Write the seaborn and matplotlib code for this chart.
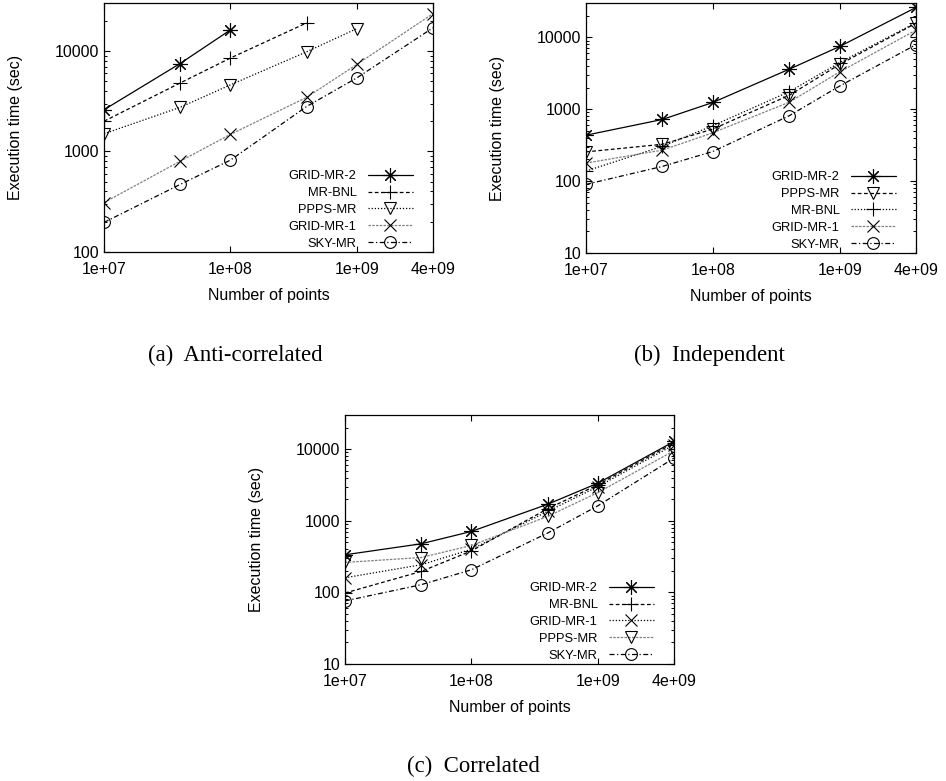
import numpy as np
import pandas as pd
import matplotlib
matplotlib.use("Agg")
import matplotlib.pyplot as plt
import matplotlib.ticker as mticker
import seaborn as sns

# Dataset sizes (number of points)
n_points = [1e7, 4e7, 1e8, 4e8, 1e9, 4e9]
x_tick_values = [1e7, 1e8, 1e9, 4e9]
x_tick_labels = ["1e+07", "1e+08", "1e+09", "4e+09"]

# Execution times (sec), anti-correlated data
anti_grid_mr2 = [2600, 7500, 16200]
anti_mr_bnl = [2000, 4800, 8500, 19000]
anti_ppps_mr = [1500, 2750, 4600, 9800, 16700]
anti_grid_mr1 = [310, 800, 1480, 3450, 7350, 23500]
anti_sky_mr = [197, 470, 820, 2800, 5400, 17000]

# Execution times (sec), independent data
ind_grid_mr2 = [435, 720, 1240, 3600, 7450, 26000]
ind_ppps_mr = [255, 325, 530, 1560, 4200, 15700]
ind_mr_bnl = [138, 305, 590, 1750, 4450, 16000]
ind_grid_mr1 = [178, 270, 470, 1250, 3300, 12600]
ind_sky_mr = [90, 160, 258, 810, 2100, 7900]

# Execution times (sec), correlated data
cor_grid_mr2 = [335, 477, 710, 1700, 3350, 12800]
cor_mr_bnl = [98, 196, 380, 1470, 3180, 12200]
cor_grid_mr1 = [160, 243, 400, 1350, 3000, 11500]
cor_ppps_mr = [262, 307, 452, 1150, 2480, 9500]
cor_sky_mr = [76, 128, 207, 673, 1620, 7500]

sns.set_style("ticks")
plt.rcParams.update({
    "font.family": ["Liberation Sans", "DejaVu Sans"],
    "xtick.direction": "in",
    "ytick.direction": "in",
    "xtick.top": True,
    "ytick.right": True,
    "axes.edgecolor": "black",
    "axes.linewidth": 0.9,
    "xtick.color": "black",
    "ytick.color": "black",
    "text.color": "black",
    "axes.labelcolor": "black",
})

# Marker per algorithm
markers = {
    "GRID-MR-2": dict(marker=(8, 2, 0), markersize=10.5),
    "MR-BNL": dict(marker="+", markersize=10),
    "PPPS-MR": dict(marker="v", markersize=8.5),
    "GRID-MR-1": dict(marker="x", markersize=8),
    "SKY-MR": dict(marker="o", markersize=8.5),
}

# Line style per legend position (solid, dashed, dotted, grey fine, dash-dot)
line_styles = [
    dict(linestyle="-", color="black"),
    dict(linestyle=(0, (3, 2)), color="black"),
    dict(linestyle=(0, (1, 1.5)), color="black"),
    dict(linestyle=(0, (2, 1)), color="0.5"),
    dict(linestyle=(0, (4, 2, 1, 2)), color="black"),
]

panels = [
    dict(rect=[104 / 946, 1 - 252 / 781, 329 / 946, 249 / 781], ylim=(100, 30000),
         caption="(a)  Anti-correlated", cap_xy=(235 / 946, 1 - 361 / 781),
         series=[("GRID-MR-2", anti_grid_mr2), ("MR-BNL", anti_mr_bnl),
                 ("PPPS-MR", anti_ppps_mr), ("GRID-MR-1", anti_grid_mr1),
                 ("SKY-MR", anti_sky_mr)]),
    dict(rect=[586 / 946, 1 - 253 / 781, 330 / 946, 250 / 781], ylim=(10, 30000),
         caption="(b)  Independent", cap_xy=(709 / 946, 1 - 361 / 781),
         series=[("GRID-MR-2", ind_grid_mr2), ("PPPS-MR", ind_ppps_mr),
                 ("MR-BNL", ind_mr_bnl), ("GRID-MR-1", ind_grid_mr1),
                 ("SKY-MR", ind_sky_mr)]),
    dict(rect=[345 / 946, 1 - 664 / 781, 329 / 946, 249 / 781], ylim=(10, 30000),
         caption="(c)  Correlated", cap_xy=(473 / 946, 1 - 772 / 781),
         series=[("GRID-MR-2", cor_grid_mr2), ("MR-BNL", cor_mr_bnl),
                 ("GRID-MR-1", cor_grid_mr1), ("PPPS-MR", cor_ppps_mr),
                 ("SKY-MR", cor_sky_mr)]),
]

fig = plt.figure(figsize=(9.46, 7.81), dpi=100)

for panel in panels:
    ax = fig.add_axes(panel["rect"])
    for pos, (name, values) in enumerate(panel["series"]):
        df = pd.DataFrame({"points": n_points[:len(values)], "time": values})
        style = line_styles[pos]
        mk = markers[name]
        sns.lineplot(data=df, x="points", y="time", ax=ax, errorbar=None,
                     color=style["color"], linestyle=style["linestyle"],
                     linewidth=0.9, marker=mk["marker"], markersize=mk["markersize"],
                     markerfacecolor="none", markeredgecolor="black",
                     markeredgewidth=0.8, label=name)
    ax.set_xscale("log")
    ax.set_yscale("log")
    ax.set_xlim(1e7, 4e9)
    ax.set_ylim(*panel["ylim"])
    ax.xaxis.set_major_locator(mticker.FixedLocator(x_tick_values))
    ax.xaxis.set_major_formatter(mticker.FixedFormatter(x_tick_labels))
    ax.xaxis.set_minor_locator(mticker.NullLocator())
    ax.yaxis.set_major_locator(mticker.LogLocator(base=10))
    ax.yaxis.set_major_formatter(mticker.FuncFormatter(lambda v, p: f"{int(round(v))}"))
    ax.yaxis.set_minor_locator(mticker.LogLocator(base=10, subs=np.arange(2, 10)))
    ax.yaxis.set_minor_formatter(mticker.NullFormatter())
    ax.tick_params(axis="both", which="major", length=4, width=0.8, labelsize=11.5)
    ax.tick_params(axis="x", which="major", pad=7.5)
    ax.tick_params(axis="y", which="major", pad=3.5)
    ax.tick_params(axis="y", which="minor", length=2.2, width=0.7)
    ax.set_xlabel("Number of points", fontsize=11.5)
    ax.set_ylabel("Execution time (sec)", fontsize=11.5)
    ax.xaxis.set_label_coords(0.5, -0.145)
    ax.yaxis.set_label_coords(-0.245, 0.5)
    for sp in ax.spines.values():
        sp.set_visible(True)
        sp.set_color("black")
    ax.legend(loc="lower right", bbox_to_anchor=(0.939, 0.01), frameon=False,
              markerfirst=False, fontsize=9.3, handlelength=3.5, handletextpad=0.85,
              labelspacing=0.37, borderpad=0, borderaxespad=0)
    fig.text(panel["cap_xy"][0], panel["cap_xy"][1], panel["caption"],
             ha="center", va="baseline", fontsize=16.4,
             family=["Liberation Serif", "DejaVu Serif"])

fig.savefig("out.png", dpi=100, facecolor="white")
